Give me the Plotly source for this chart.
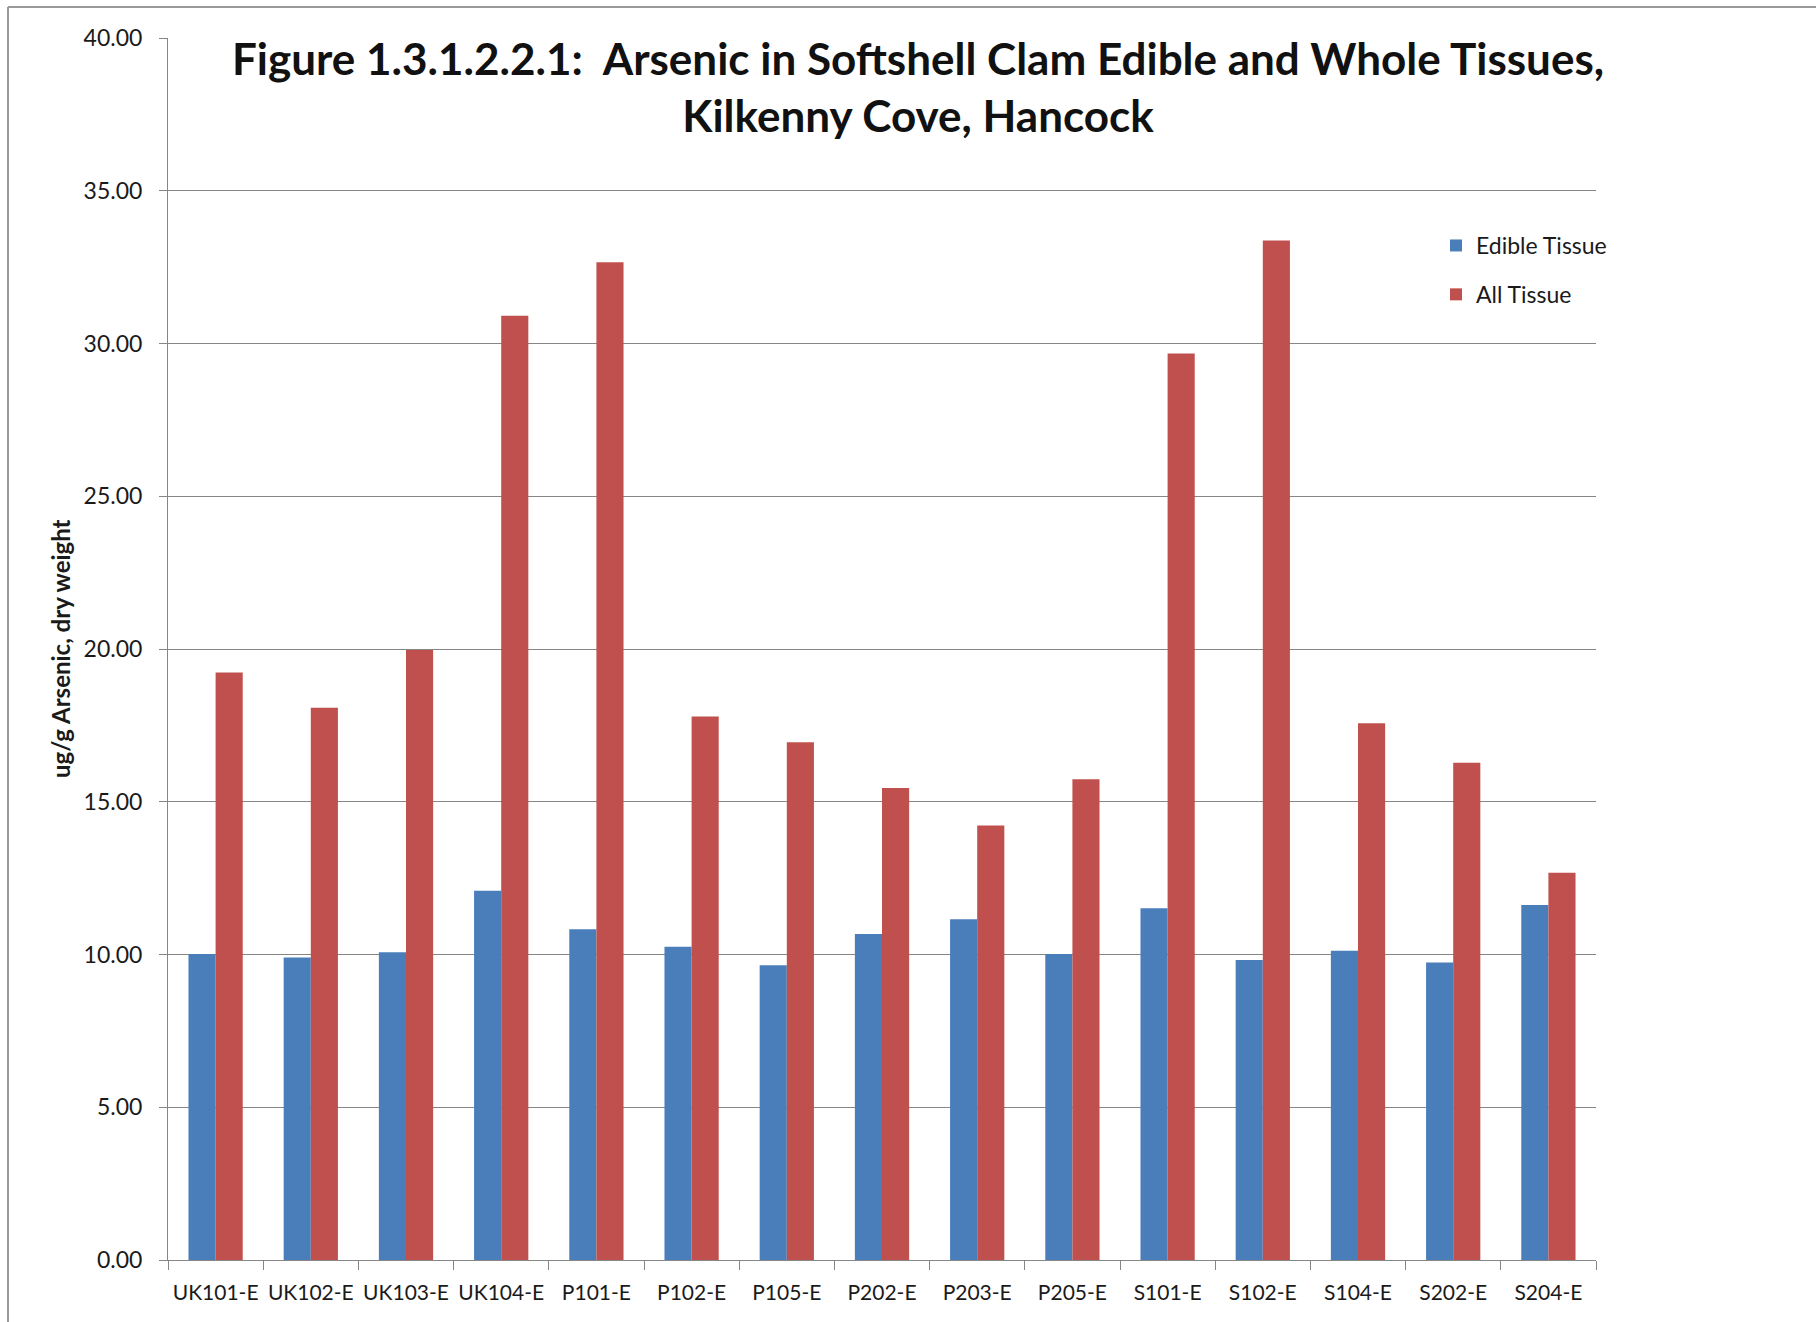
import plotly.graph_objects as go

# Sample stations along Kilkenny Cove
stations = ["UK101-E", "UK102-E", "UK103-E", "UK104-E", "P101-E", "P102-E", "P105-E",
            "P202-E", "P203-E", "P205-E", "S101-E", "S102-E", "S104-E", "S202-E", "S204-E"]

# Arsenic concentrations (ug/g, dry weight)
edible_tissue = [10.02, 9.90, 10.07, 12.09, 10.83, 10.25, 9.65, 10.67, 11.15, 10.02,
                 11.51, 9.82, 10.12, 9.74, 11.62]
all_tissue = [19.23, 18.08, 19.97, 30.91, 32.66, 17.79, 16.95, 15.45, 14.22, 15.74,
              29.67, 33.37, 17.57, 16.28, 12.68]

y_ticks = [0, 5, 10, 15, 20, 25, 30, 35, 40]

W, H = 1816, 1322
L, R, T, B = 168, 220, 38, 62
PW, PH = W - L - R, H - T - B


def px_x(p):
    return (p - L) / PW


def px_y(p):
    return (H - B - p) / PH


fig = go.Figure()
fig.add_trace(go.Bar(x=stations, y=edible_tissue, name="Edible Tissue",
                     marker=dict(color="#4A7EBB", line=dict(width=0)), legendgroup="a"))
fig.add_trace(go.Bar(x=stations, y=all_tissue, name="All Tissue",
                     marker=dict(color="#C0504D", line=dict(width=0)), legendgroup="b"))

font_family = "Lato, 'Open Sans', sans-serif"

fig.update_layout(
    width=W, height=H,
    margin=dict(l=L, r=R, t=T, b=B, autoexpand=False),
    paper_bgcolor="white", plot_bgcolor="white",
    barmode="group", bargap=0.43, bargroupgap=0,
    font=dict(family=font_family, size=20, color="#1a1a1a"),
    showlegend=True,
    legend=dict(x=px_x(1436), y=px_y(224), xanchor="left", yanchor="top",
                font=dict(size=23, color="#1a1a1a"), bgcolor="rgba(0,0,0,0)",
                traceorder="grouped", tracegroupgap=16, itemwidth=30),
    xaxis=dict(showline=True, linecolor="#868686", linewidth=1,
               ticks="outside", tickson="boundaries", ticklen=9, tickcolor="#868686",
               ticklabelstandoff=14, tickangle=0,
               tickfont=dict(size=21, color="#1a1a1a"), showgrid=False),
    yaxis=dict(range=[0, 40], tickvals=y_ticks, tickformat=".2f",
               showline=True, linecolor="#868686", linewidth=1,
               ticks="outside", ticklen=8, tickcolor="#868686",
               ticklabelstandoff=12,
               showgrid=True, gridcolor="#868686", gridwidth=1, zeroline=False,
               tickfont=dict(size=23, color="#1a1a1a")),
)

fig.add_annotation(
    text="<b>Figure 1.3.1.2.2.1:  Arsenic in Softshell Clam Edible and Whole Tissues,</b>"
         "<br><b>Kilkenny Cove, Hancock</b>",
    xref="paper", yref="paper", x=px_x(918), y=px_y(30), xanchor="center", yanchor="top",
    showarrow=False, align="center", font=dict(size=44, color="#111111", family=font_family),
)

# y-axis title
fig.add_annotation(
    text="<b>ug/g Arsenic, dry weight</b>", textangle=-90,
    xref="paper", yref="paper", x=px_x(60), y=px_y(649), xanchor="center", yanchor="middle",
    showarrow=False, font=dict(size=24, color="#1a1a1a", family=font_family),
)

# outer chart frame
fig.add_shape(type="line", xref="paper", yref="paper",
              x0=px_x(8), x1=px_x(1816), y0=px_y(7), y1=px_y(7),
              line=dict(color="#9a9a9a", width=2))
fig.add_shape(type="line", xref="paper", yref="paper",
              x0=px_x(8), x1=px_x(8), y0=px_y(7), y1=px_y(1322),
              line=dict(color="#9a9a9a", width=2))

fig.write_html("out.html")
